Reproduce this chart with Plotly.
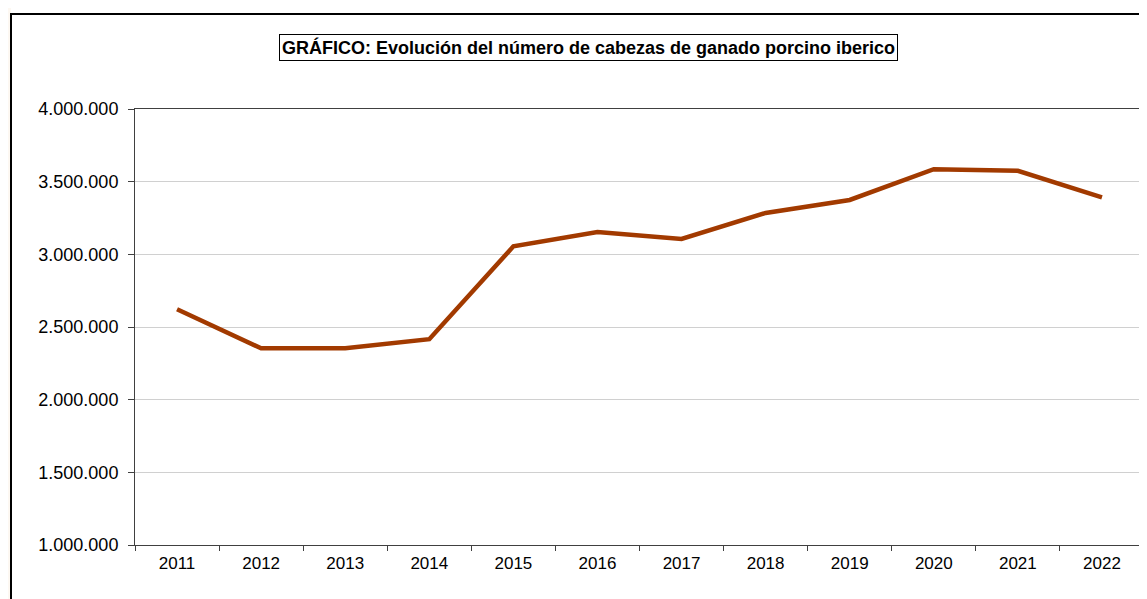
import plotly.graph_objects as go

years = ["2011", "2012", "2013", "2014", "2015", "2016", "2017", "2018", "2019", "2020", "2021", "2022"]
cabezas = [2622000, 2353000, 2353000, 2416000, 3055000, 3154000, 3106000, 3285000, 3374000, 3586000, 3575000, 3392000]
title_text = "GRÁFICO: Evolución del número de cabezas de ganado porcino iberico"

fig = go.Figure()
fig.add_trace(go.Scatter(
    x=years, y=cabezas, mode="lines",
    line=dict(color="#A23A00", width=4.5),
    hoverinfo="x+y",
))

fnt = "Liberation Sans, Arial, sans-serif"
# page body has an 8px margin: figure is placed at (8, 8)
PX0, PY0, PW, PH = 135, 109, 1009, 436  # plot area in window pixels


def px(x):
    return (x - PX0) / PW


def py(y):
    return 1 - (y - PY0) / PH


fig.update_layout(
    width=1139, height=591,
    margin=dict(l=127, r=3, t=101, b=54),
    paper_bgcolor="white", plot_bgcolor="white",
    separators=",.",
    showlegend=False,
    font=dict(family=fnt, size=17, color="black"),
    xaxis=dict(
        type="category", tickson="boundaries", ticks="outside", ticklen=5,
        range=[-0.5, 11.5], ticklabelstandoff=3,
        tickcolor="#404040", showline=True, linecolor="#404040", linewidth=1,
        mirror=True, showgrid=False, tickfont=dict(size=17, family=fnt),
    ),
    yaxis=dict(
        range=[1000000, 4000000], dtick=500000, tick0=0, tickformat=",d",
        ticks="outside", ticklen=6, tickcolor="#404040", ticklabelstandoff=6,
        showline=True, linecolor="#404040", linewidth=1, mirror=True,
        showgrid=True, gridcolor="#d0d0d0", gridwidth=1, zeroline=False,
        tickfont=dict(size=18, family=fnt),
    ),
    annotations=[dict(
        text="<b>" + title_text + "</b>", xref="paper", yref="paper",
        x=px(588.5), y=py(47.5), xanchor="center", yanchor="middle",
        showarrow=False, font=dict(size=18, family=fnt, color="black"),
        bordercolor="black", borderwidth=1, borderpad=2, bgcolor="white",
    )],
    shapes=[
        dict(type="rect", xref="paper", yref="paper",
             x0=px(0), x1=px(11), y0=-0.3, y1=1.3,
             fillcolor="#fdf8f2", line=dict(width=0), layer="below"),
        dict(type="rect", xref="paper", yref="paper",
             x0=px(11), x1=1.1, y0=-0.3, y1=py(14),
             fillcolor="rgba(0,0,0,0)", line=dict(color="black", width=2)),
    ],
)

fig.write_html("out.html")
